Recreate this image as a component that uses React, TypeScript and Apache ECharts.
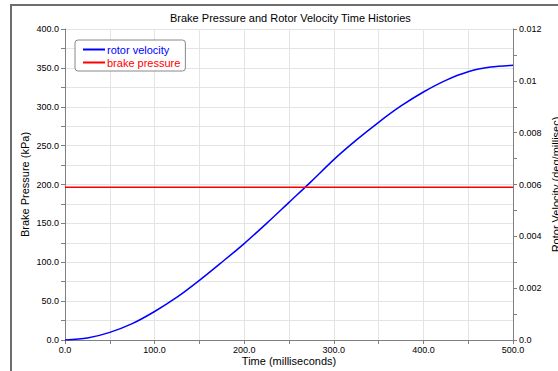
import React, { useEffect, useRef } from "react";
import * as echarts from "echarts";

const timeMs = [0, 25, 50, 75, 100, 125, 150, 175, 200, 225, 250, 275, 300, 325, 350, 375, 400, 425, 450, 475, 500];
const rotorVelocity = [0, 0.000075, 0.000294, 0.00063, 0.0011, 0.00165, 0.0023, 0.003, 0.00372, 0.0045, 0.00531, 0.00612, 0.00696, 0.00771, 0.0084, 0.00903, 0.00957, 0.01002, 0.01035, 0.01053, 0.0106];
const brakePressure = [196.5, 196.5, 196.5, 196.5, 196.5, 196.5, 196.5, 196.5, 196.5, 196.5, 196.5, 196.5, 196.5, 196.5, 196.5, 196.5, 196.5, 196.5, 196.5, 196.5, 196.5];
const seriesNames = ["rotor velocity", "brake pressure"];
const titleText = "Brake Pressure and Rotor Velocity Time Histories";

const FONT = "'Liberation Sans', Arial, sans-serif";
const AXIS_GRAY = "#808080";
const GRID_GRAY = "#e4e4e4";

export default function App() {
  const ref = useRef<HTMLDivElement>(null);
  useEffect(() => {
    if (!ref.current) return;
    const chart = echarts.init(ref.current, null, { renderer: "svg" });
    const option: any = {
      animation: false,
      backgroundColor: "#ffffff",
      textStyle: { fontFamily: FONT },
      title: {
        text: titleText,
        left: 165,
        top: 7,
        textStyle: { fontSize: 11, fontWeight: "normal", color: "#000", fontFamily: FONT },
      },
      legend: {
        orient: "vertical",
        left: 75,
        top: 40,
        padding: [4, 5, 3, 8],
        itemGap: 2,
        itemWidth: 22,
        itemHeight: 2,
        icon: "rect",
        borderColor: "#888",
        borderWidth: 1,
        borderRadius: 3,
        backgroundColor: "#fff",
        textStyle: { fontSize: 11, fontFamily: FONT, padding: [0, 0, 0, -3] },
        data: [
          { name: seriesNames[0], textStyle: { color: "#0000ff" } },
          { name: seriesNames[1], textStyle: { color: "#ff0000" } },
        ],
      },
      grid: { left: 65, right: 45, top: 29, bottom: 31, containLabel: false, outerBoundsMode: "none" },
      xAxis: {
        type: "value",
        min: 0,
        max: 500,
        interval: 100,
        name: "Time (milliseconds)",
        nameLocation: "middle",
        nameGap: 15,
        nameMoveOverlap: false,
        nameTextStyle: { fontSize: 11, color: "#000", fontFamily: FONT },
        axisLine: { show: true, onZero: false, lineStyle: { color: AXIS_GRAY } },
        axisTick: { show: true, length: 4, lineStyle: { color: AXIS_GRAY } },
        minorTick: { show: true, splitNumber: 2, length: 4, lineStyle: { color: AXIS_GRAY } },
        splitLine: { show: true, lineStyle: { color: GRID_GRAY } },
        minorSplitLine: { show: true, lineStyle: { color: GRID_GRAY } },
        axisLabel: { fontSize: 9, color: "#000", margin: 5, formatter: (v: number) => v.toFixed(1) },
      },
      yAxis: [
        {
          type: "value",
          min: 0,
          max: 400,
          interval: 50,
          position: "left",
          name: "Brake Pressure (kPa)",
          nameLocation: "middle",
          nameGap: 35,
          nameMoveOverlap: false,
          nameTextStyle: { fontSize: 11, color: "#000", fontFamily: FONT },
          axisLine: { show: true, lineStyle: { color: AXIS_GRAY } },
          axisTick: { show: true, length: 4, lineStyle: { color: AXIS_GRAY } },
          minorTick: { show: true, splitNumber: 2, length: 4, lineStyle: { color: AXIS_GRAY } },
          splitLine: { show: true, lineStyle: { color: GRID_GRAY } },
          minorSplitLine: { show: true, lineStyle: { color: GRID_GRAY } },
          axisLabel: { fontSize: 9, color: "#000", margin: 6, formatter: (v: number) => v.toFixed(1) },
        },
        {
          type: "value",
          min: 0,
          max: 0.012,
          interval: 0.002,
          position: "right",
          name: "Rotor Velocity (deg/millisec)",
          nameLocation: "middle",
          nameGap: 37,
          nameMoveOverlap: false,
          nameRotate: 90,
          nameTextStyle: { fontSize: 11, color: "#000", fontFamily: FONT },
          axisLine: { show: true, lineStyle: { color: AXIS_GRAY } },
          axisTick: { show: true, length: 4, lineStyle: { color: AXIS_GRAY } },
          minorTick: { show: true, splitNumber: 2, length: 4, lineStyle: { color: AXIS_GRAY } },
          splitLine: { show: false },
          axisLabel: {
            fontSize: 9,
            color: "#000",
            margin: 6,
            formatter: (v: number) => (v === 0 ? "0.0" : String(parseFloat(v.toFixed(3)))),
          },
        },
      ],
      series: [
        {
          name: seriesNames[0],
          type: "line",
          yAxisIndex: 1,
          smooth: 0.3,
          showSymbol: false,
          symbol: "none",
          data: timeMs.map((t, i) => [t, rotorVelocity[i]]),
          lineStyle: { color: "#0000ff", width: 1.5 },
          itemStyle: { color: "#0000ff" },
        },
        {
          name: seriesNames[1],
          type: "line",
          yAxisIndex: 0,
          showSymbol: false,
          symbol: "none",
          data: timeMs.map((t, i) => [t, brakePressure[i]]),
          lineStyle: { color: "#ff0000", width: 1.5 },
          itemStyle: { color: "#ff0000" },
        },
      ],
      graphic: [
        {
          type: "line",
          silent: true,
          shape: { x1: 11, y1: 5, x2: 558, y2: 5 },
          style: { stroke: "#6e6e6e", lineWidth: 2 },
        },
        {
          type: "line",
          silent: true,
          shape: { x1: 11, y1: 4, x2: 11, y2: 371 },
          style: { stroke: "#6e6e6e", lineWidth: 2 },
        },
      ],
    };
    chart.setOption(option);
    return () => chart.dispose();
  }, []);
  return (
    <div
      ref={ref}
      style={{ position: "fixed", left: 0, top: 0, width: 558, height: 371, background: "#fff" }}
    />
  );
}
